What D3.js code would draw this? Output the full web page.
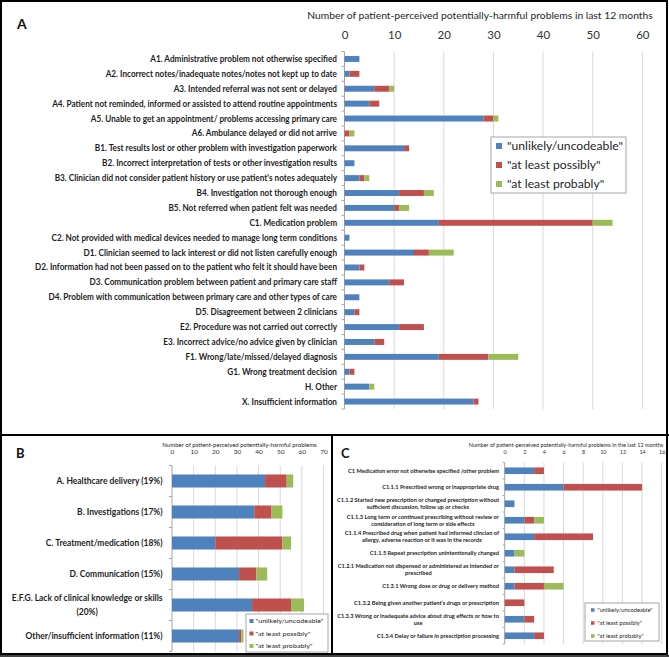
<!DOCTYPE html>
<html><head><meta charset="utf-8">
<script src="https://cdn.jsdelivr.net/npm/d3@7/dist/d3.min.js"></script>
<style>
html,body{margin:0;padding:0;background:#fff;}
svg{display:block;}
text{font-family:Lato,"Open Sans","DejaVu Sans",sans-serif;}
</style></head><body>
<svg id="chart" width="669" height="657"></svg>
<script>
const seriesNames = ['"unlikely/uncodeable"', '"at least possibly"', '"at least probably"'];
const seriesColors = ["#4F81BD", "#C0504D", "#9BBB59"];

// Panel A
const titleA = "Number of patient-perceived potentially-harmful problems in last 12 months";
const categoriesA = [
  ["A1. Administrative problem not otherwise specified"],
  ["A2. Incorrect notes/inadequate notes/notes not kept up to date"],
  ["A3. Intended referral was not sent or delayed"],
  ["A4. Patient not reminded, informed or assisted to attend routine appointments"],
  ["A5. Unable to get an appointment/ problems accessing primary care"],
  ["A6. Ambulance delayed or did not arrive"],
  ["B1. Test results lost or other problem with investigation paperwork"],
  ["B2. Incorrect interpretation of tests or other investigation results"],
  ["B3. Clinician did not consider patient history or use patient's notes adequately"],
  ["B4. Investigation not thorough enough"],
  ["B5. Not referred when patient felt was needed"],
  ["C1. Medication problem"],
  ["C2. Not provided with medical devices needed to manage long term conditions"],
  ["D1. Clinician seemed to lack interest or did not listen carefully enough"],
  ["D2. Information had not been passed on to the patient who felt it should have been"],
  ["D3. Communication problem between patient and primary care staff"],
  ["D4. Problem with communication between primary care and other types of care"],
  ["D5. Disagreement between 2 clinicians"],
  ["E2. Procedure was not carried out correctly"],
  ["E3. Incorrect advice/no advice given by clinician"],
  ["F1. Wrong/late/missed/delayed diagnosis"],
  ["G1. Wrong treatment decision"],
  ["H. Other"],
  ["X. Insufficient information"]
];
const unlikelyA = [3, 1, 6, 5, 28, 0, 12, 2, 3, 11, 10, 19, 1, 14, 3, 9, 3, 2, 11, 6, 19, 1, 5, 26];
const possiblyA = [0, 2, 3, 2, 2, 1, 1, 0, 1, 5, 1, 31, 0, 3, 1, 3, 0, 1, 5, 2, 10, 1, 0, 1];
const probablyA = [0, 0, 1, 0, 1, 1, 0, 0, 1, 2, 2, 4, 0, 5, 0, 0, 0, 0, 0, 0, 6, 0, 1, 0];
const ticksA = [0, 10, 20, 30, 40, 50, 60];

// Panel B
const titleB = "Number of patient-perceived potentially-harmful problems";
const categoriesB = [
  ["A. Healthcare delivery (19%)"],
  ["B. Investigations (17%)"],
  ["C. Treatment/medication (18%)"],
  ["D. Communication (15%)"],
  ["E.F.G. Lack of clinical knowledge or skills", "(20%)"],
  ["Other/insufficient information (11%)"]
];
const unlikelyB = [43, 38, 20, 31, 37, 31];
const possiblyB = [10, 8, 31, 8, 18, 1];
const probablyB = [3, 5, 4, 5, 6, 1];
const ticksB = [0, 10, 20, 30, 40, 50, 60, 70];

// Panel C
const titleC = "Number of patient-perceived potentially-harmful problems in the last 12 months";
const categoriesC = [
  ["C1 Medication error not otherwise specified /other problem"],
  ["C1.1.1 Prescribed wrong or inappropriate drug"],
  ["C1.1.2 Started new prescription or changed prescription without", "sufficient discussion, follow up or checks"],
  ["C1.1.3 Long term or continued prescribing without review or", "consideration of long term or side effects"],
  ["C1.1.4 Prescribed drug when patient had informed clincian of", "allergy, adverse reaction or it was in the records"],
  ["C1.1.5 Repeat prescription unintentionally changed"],
  ["C1.2.1 Medication not dispensed or administered as intended or", "prescribed"],
  ["C1.3.1 Wrong dose or drug or delivery method"],
  ["C1.3.2 Being given another patient\u2019s drugs or prescription"],
  ["C1.3.3 Wrong or inadequate advice about drug effects or how to", "use"],
  ["C1.3.4 Delay or failure in prescription processing"]
];
const unlikelyC = [3, 6, 1, 2, 3, 1, 1, 1, 0, 2, 3];
const possiblyC = [1, 8, 0, 1, 6, 0, 4, 3, 2, 1, 1];
const probablyC = [0, 0, 0, 1, 0, 1, 0, 2, 0, 0, 0];
const ticksC = [0, 2, 4, 6, 8, 10, 12, 14, 16];

const svg = d3.select("#chart");

function measure(str, size, weight) {
  const t = svg.append("text").attr("font-size", size).attr("font-weight", weight).text(str);
  const w = t.node().getComputedTextLength();
  t.remove();
  return w;
}
function fitText(t, k) {
  const w = t.node().getComputedTextLength();
  t.attr("textLength", w * k).attr("lengthAdjust", "spacingAndGlyphs");
  return w * k;
}

function drawPanel(o) {
  const g = svg.append("g");
  const n = o.cats.length;
  const x = d3.scaleLinear().domain([0, o.max]).range([o.x0, o.x1]);
  const y = d3.scaleBand().domain(d3.range(n)).range([o.y0, o.y1])
    .paddingInner(o.pad).paddingOuter(o.pad / 2);
  const step = y.step();

  g.append("g").selectAll("line").data(o.ticks.filter(t => t > 0)).join("line")
    .attr("x1", d => x(d)).attr("x2", d => x(d))
    .attr("y1", o.y0).attr("y2", o.y1)
    .attr("stroke", "#d9d9d9").attr("stroke-width", 1);

  g.append("line").attr("x1", x(0)).attr("x2", x(0)).attr("y1", o.y0).attr("y2", o.y1)
    .attr("stroke", "#a6a6a6").attr("stroke-width", 1);
  g.append("g").selectAll("line").data(d3.range(n + 1)).join("line")
    .attr("x1", x(0) - o.tickLen).attr("x2", x(0))
    .attr("y1", i => o.y0 + i * step).attr("y2", i => o.y0 + i * step)
    .attr("stroke", "#a6a6a6").attr("stroke-width", 1);

  const rows = d3.range(n).map(i => ({ i: i, s0: o.series[0][i], s1: o.series[1][i], s2: o.series[2][i] }));
  const stacked = d3.stack().keys(["s0", "s1", "s2"])(rows);
  g.append("g").selectAll("g").data(stacked).join("g")
    .attr("fill", (d, k) => seriesColors[k])
    .selectAll("rect").data(d => d.filter(p => p[1] > p[0])).join("rect")
    .attr("x", p => x(p[0])).attr("width", p => x(p[1]) - x(p[0]))
    .attr("y", p => y(p.data.i)).attr("height", y.bandwidth());

  const ax = g.append("g").attr("transform", `translate(0,${o.tickY})`)
    .call(d3.axisTop(x).tickValues(o.ticks).tickSize(0).tickPadding(0));
  ax.select(".domain").remove();
  ax.selectAll("text").attr("font-size", o.tickFont).attr("fill", "#333").attr("dy", "0.35em");

  const lab = g.append("g").attr("font-weight", "bold").attr("font-size", o.labelFont).attr("fill", "#1e1e1e");
  const kLab = o.labelFitW / measure(o.labelFitText, o.labelFont, "bold");
  o.cats.forEach((lines, i) => {
    const cy = y(i) + y.bandwidth() / 2;
    const ts = lines.map((s, j) => lab.append("text").text(s)
      .attr("y", cy + (j - (lines.length - 1) / 2) * o.lineH).attr("dy", "0.35em"));
    const ws = ts.map(t => fitText(t, kLab));
    const maxW = d3.max(ws);
    ts.forEach(t => {
      if (lines.length === 1) t.attr("x", o.labelRight).attr("text-anchor", "end");
      else t.attr("x", o.labelRight - maxW / 2).attr("text-anchor", "middle");
    });
  });

  // title: fit by font size so its natural box stays inside the frame
  const tSize = o.titleFont * o.titleW / measure(o.title, o.titleFont, "normal");
  g.append("text").attr("x", o.titleX).attr("y", o.titleY).attr("dy", "0.35em")
    .attr("text-anchor", "middle").attr("font-size", tSize).attr("fill", "#262626").text(o.title);

  const lg = g.append("g");
  lg.append("rect").attr("x", o.leg.x).attr("y", o.leg.y).attr("width", o.leg.w).attr("height", o.leg.h)
    .attr("fill", "#fff").attr("stroke", "#a6a6a6").attr("stroke-width", 1);
  const kL = o.leg.fitW / measure(seriesNames[0], o.leg.font, "normal");
  seriesNames.forEach((s, k) => {
    lg.append("rect").attr("x", o.leg.sqX).attr("y", o.leg.ys[k] - o.leg.sq / 2)
      .attr("width", o.leg.sq).attr("height", o.leg.sq).attr("fill", seriesColors[k]);
    const t = lg.append("text").attr("x", o.leg.textX).attr("y", o.leg.ys[k]).attr("dy", "0.35em")
      .attr("font-size", o.leg.font).attr("fill", "#262626").text(s);
    fitText(t, kL);
  });

  g.append("text").attr("x", o.letter[0]).attr("y", o.letter[1]).attr("dy", "0.35em")
    .attr("font-size", o.letter[2]).attr("font-weight", "bold").attr("fill", "#111").text(o.letterText);
}

drawPanel({
  cats: categoriesA, series: [unlikelyA, possiblyA, probablyA], ticks: ticksA, max: 60,
  x0: 344.5, x1: 642.3, y0: 51.5, y1: 409, pad: 0.6, tickLen: 3,
  tickY: 35, tickFont: 11.5,
  labelRight: 337, labelFont: 8.6, labelFitText: categoriesA[14][0], labelFitW: 302, lineH: 9,
  title: titleA, titleX: 480, titleY: 15, titleFont: 11, titleW: 346,
  leg: { x: 491, y: 137, w: 135, h: 56, ys: [146, 165, 184], sq: 6, sqX: 496, textX: 507, font: 12, fitW: 116 },
  letter: [17, 24, 14], letterText: "A"
});

drawPanel({
  cats: categoriesB, series: [unlikelyB, possiblyB, probablyB], ticks: ticksB, max: 70,
  x0: 172, x1: 323.5, y0: 465.5, y1: 651.5, pad: 0.58, tickLen: 3,
  tickY: 452, tickFont: 6.5,
  labelRight: 162.5, labelFont: 9.2, labelFitText: categoriesB[5][0], labelFitW: 137, lineH: 13.7,
  title: titleB, titleX: 239.5, titleY: 444.5, titleFont: 6.5, titleW: 155,
  leg: { x: 246, y: 614, w: 82, h: 38, ys: [621, 633.5, 646], sq: 4, sqX: 249.5, textX: 255.5, font: 6.5, fitW: 68 },
  letter: [16, 453, 13], letterText: "B"
});

drawPanel({
  cats: categoriesC, series: [unlikelyC, possiblyC, probablyC], ticks: ticksC, max: 16,
  x0: 504.7, x1: 661.7, y0: 462.5, y1: 644, pad: 0.6, tickLen: 2,
  tickY: 452, tickFont: 5.5,
  labelRight: 499, labelFont: 5.6, labelFitText: categoriesC[0][0], labelFitW: 151, lineH: 6.6,
  title: titleC, titleX: 566, titleY: 445, titleFont: 5.5, titleW: 195,
  leg: { x: 585, y: 603, w: 74, h: 38, ys: [610, 623, 636], sq: 3.5, sqX: 591, textX: 597.5, font: 5.5, fitW: 55 },
  letter: [341, 453, 13], letterText: "C"
});

// panel frames
const frame = svg.append("g").attr("fill", "none").attr("stroke", "#000");
frame.append("rect").attr("x", 1).attr("y", 1).attr("width", 666).attr("height", 653).attr("stroke-width", 2);
frame.append("line").attr("x1", 0).attr("x2", 669).attr("y1", 435).attr("y2", 435).attr("stroke-width", 2);
frame.append("line").attr("x1", 332).attr("x2", 332).attr("y1", 435).attr("y2", 655).attr("stroke-width", 2);
svg.append("rect").attr("x", 0).attr("y", 655).attr("width", 669).attr("height", 2).attr("fill", "#444");
</script>
</body></html>
